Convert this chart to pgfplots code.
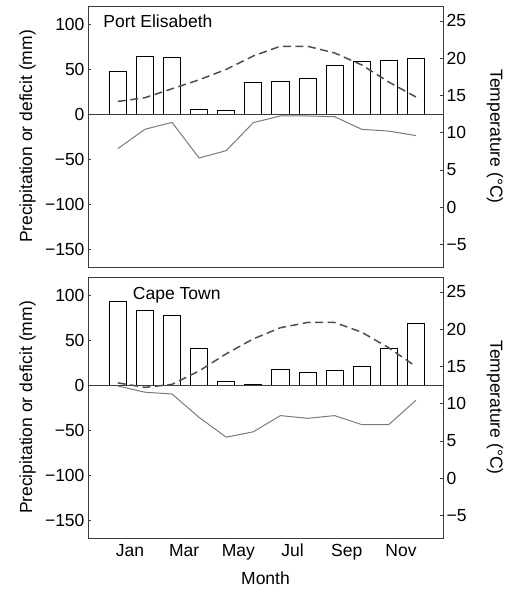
\documentclass[border=0pt]{standalone}
\usepackage{pgfplots}
\pgfplotsset{compat=1.18}
\usepackage{fontspec}
\setmainfont{Liberation Sans}
\definecolor{framec}{HTML}{3C3C3C}
\definecolor{tline}{HTML}{4E4E4E}
\definecolor{dline}{HTML}{7A7A7A}

\pgfplotsset{
  base/.style={
    scale only axis, width=355pt, height=261pt,
    xmin=-0.1, xmax=13,
    axis line style={framec, line width=0.8pt},
    tick style={framec, line width=0.7pt},
    major tick length=3pt,
    tick align=inside,
    font=\fontsize{17.5}{21}\selectfont,
    /pgf/number format/assume math mode=true,
    anchor=north west,
  },
  leftax/.style={
    base,
    ymin=-170, ymax=120,
    ytick={-150,-100,-50,0,50,100},
    yticklabels={−150,−100,−50,0,50,100},
    ytick pos=left,
    xtick style={draw=none},
    ylabel={Precipitation or deficit (mm)},
    ylabel style={at={(axis description cs:-0.1704,0.5)}, anchor=center},
  },
  rightax/.style={
    base,
    ymin=-8, ymax=27,
    axis y line*=right, axis x line=none,
    ytick={-5,0,5,10,15,20,25},
    yticklabels={−5,0,5,10,15,20,25},
    ylabel={Temperature (°C)},
    ylabel style={at={(axis description cs:1.1465,0.5)}, anchor=center, rotate=180},
  },
  barst/.style={ybar, bar width=0.63, draw=black, fill=white, line width=0.8pt},
  tempst/.style={tline, line width=1.5pt, dash pattern=on 8pt off 4.5pt},
  defst/.style={dline, line width=1pt},
}

\begin{document}
\begin{tikzpicture}
\path[use as bounding box] (0,0) rectangle (509pt,-593pt);

% ---------------- Port Elisabeth ----------------
\begin{axis}[leftax, at={(88pt,-6pt)}, xtick=\empty]
\addplot[barst] coordinates {
 (1,47) (2,64) (3,63) (4,5) (5,4) (6,35) (7,36) (8,40) (9,54) (10,58) (11,60) (12,62)};
\addplot[framec, line width=0.8pt] coordinates {(-0.1,0) (13,0)};
\addplot[defst] coordinates {
 (1,-38.5) (2,-17) (3,-9.3) (4,-48.9) (5,-40.7) (6,-9.6) (7,-2.2) (8,-2.2) (9,-3) (10,-17) (11,-19) (12,-24)};
\node[anchor=base west, inner sep=0pt, font=\fontsize{17.5}{21}\selectfont] at (rel axis cs:0.043,0.918) {Port Elisabeth};
\end{axis}
\begin{axis}[rightax, at={(88pt,-6pt)}]
\addplot[tempst] coordinates {
 (1,14.2) (2,14.7) (3,15.9) (4,17.1) (5,18.5) (6,20.3) (7,21.6) (8,21.6) (9,20.7) (10,19.1) (11,16.8) (12,14.8)};
\end{axis}

% ---------------- Cape Town ----------------
\begin{axis}[leftax, at={(88pt,-277pt)},
  xtick={1.45,3.45,5.45,7.45,9.45,11.45},
  xticklabels={Jan,Mar,May,Jul,Sep,Nov},
  xticklabel style={yshift=-2.5pt},
  xlabel={Month},
  xlabel style={at={(axis description cs:0.5,-0.156)}, anchor=center}]
\addplot[barst] coordinates {
 (1,93) (2,83) (3,77) (4,41) (5,4) (6,1) (7,17) (8,14) (9,16) (10,20.5) (11,41) (12,68)};
\addplot[framec, line width=0.8pt] coordinates {(-0.1,0) (13,0)};
\addplot[defst] coordinates {
 (1,-1) (2,-8) (3,-10) (4,-36) (5,-58) (6,-52) (7,-34) (8,-37) (9,-34) (10,-44) (11,-44) (12,-17)};
\node[anchor=base west, inner sep=0pt, font=\fontsize{17.5}{21}\selectfont] at (rel axis cs:0.126,0.912) {Cape Town};
\end{axis}
\begin{axis}[rightax, at={(88pt,-277pt)}]
\addplot[tempst] coordinates {
 (1,12.8) (2,12.2) (3,12.6) (4,14.4) (5,16.7) (6,18.7) (7,20.2) (8,20.9) (9,20.9) (10,19.6) (11,17.5) (12,15.0)};
\end{axis}
\end{tikzpicture}
\end{document}
